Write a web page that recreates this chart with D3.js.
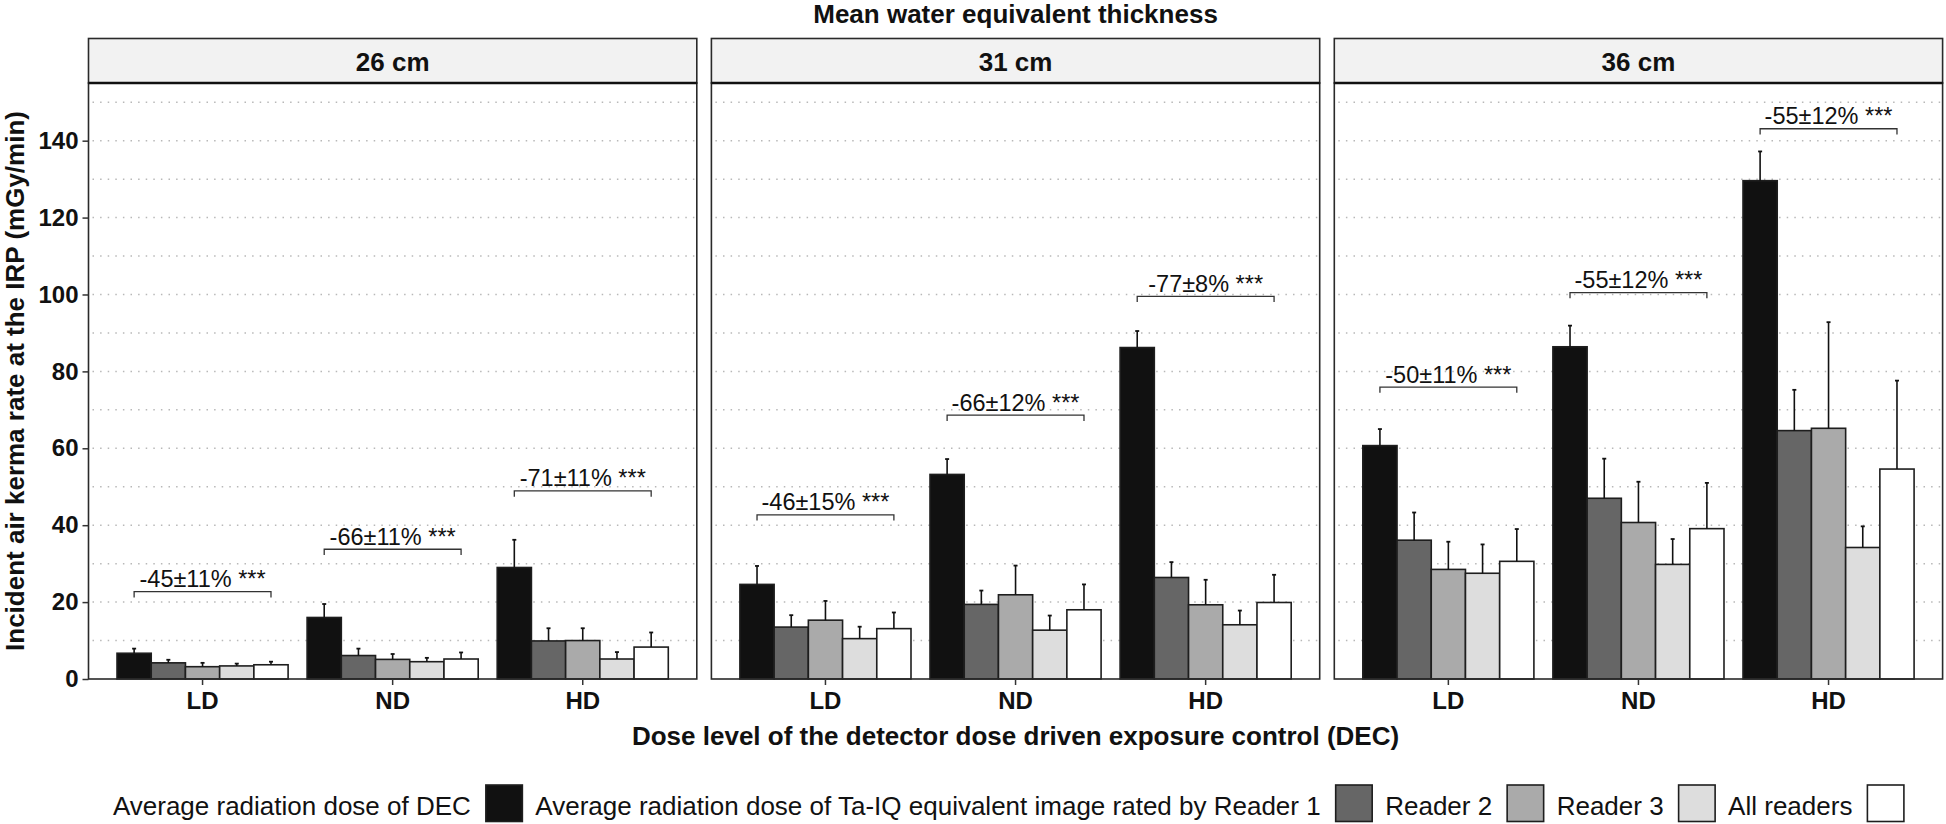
<!DOCTYPE html>
<html>
<head>
<meta charset="utf-8">
<script src="https://cdn.jsdelivr.net/npm/d3@7/dist/d3.min.js"></script>
<style>
  html, body { margin: 0; padding: 0; background: #fff; }
  svg { display: block; font-family: "Liberation Sans", Arial, Helvetica, sans-serif; }
</style>
</head>
<body>
<script>
// ---------- data ----------
const panels = ["26 cm", "31 cm", "36 cm"];
const categories = ["LD", "ND", "HD"];
const seriesNames = [
  "Average radiation dose of DEC",
  "Average radiation dose of Ta-IQ equivalent image rated by Reader 1",
  "Reader 2",
  "Reader 3",
  "All readers"
];
// mean values per category (LD, ND, HD), series order as seriesNames
const mean26 = [[6.7, 4.2, 3.2, 3.4, 3.7], [16.0, 6.1, 5.1, 4.5, 5.2], [29.0, 9.9, 10.0, 5.2, 8.3]];
const upper26 = [[7.9, 5.0, 4.2, 4.0, 4.5], [19.5, 7.9, 6.5, 5.5, 6.9], [36.2, 13.2, 13.2, 7.0, 12.1]];
const mean31 = [[24.6, 13.5, 15.3, 10.5, 13.1], [53.2, 19.4, 21.9, 12.7, 18.0], [86.2, 26.4, 19.3, 14.1, 19.9]];
const upper31 = [[29.4, 16.6, 20.3, 13.6, 17.3], [57.2, 23.0, 29.5, 16.5, 24.6], [90.5, 30.4, 25.8, 17.8, 27.1]];
const mean36 = [[60.7, 36.1, 28.5, 27.5, 30.6], [86.4, 47.0, 40.7, 29.8, 39.1], [129.6, 64.6, 65.2, 34.2, 54.6]];
const upper36 = [[65.0, 43.3, 35.7, 35.0, 39.0], [91.9, 57.3, 51.3, 36.4, 51.0], [137.2, 75.2, 92.8, 39.7, 77.6]];
const bracketY26 = [22.7, 33.75, 48.9];
const bracketY31 = [42.7, 68.6, 99.5];
const bracketY36 = [75.9, 100.5, 143.1];
const bracketLabels26 = ["-45\u00b111% ***", "-66\u00b111% ***", "-71\u00b111% ***"];
const bracketLabels31 = ["-46\u00b115% ***", "-66\u00b112% ***", "-77\u00b18% ***"];
const bracketLabels36 = ["-50\u00b111% ***", "-55\u00b112% ***", "-55\u00b112% ***"];
const yTicks = [0, 20, 40, 60, 80, 100, 120, 140];
const gridValues = [10, 20, 30, 40, 50, 60, 70, 80, 90, 100, 110, 120, 130, 140, 150];
const yDomain = [0, 155];
const title = "Mean water equivalent thickness";
const xTitle = "Dose level of the detector dose driven exposure control (DEC)";
const yTitle = "Incident air kerma rate at the IRP (mGy/min)";

// ---------- styles ----------
const fills = ["#111111", "#666666", "#aaaaaa", "#dddddd", "#ffffff"];
const W = 1946, H = 824;
const panelLeft = 88.5, panelW = 608.3, panelGap = 14.6;
const stripTop = 38.5, panelTop = 83, panelBottom = 679;

const meansAll = [mean26, mean31, mean36];
const uppersAll = [upper26, upper31, upper36];
const bracketYAll = [bracketY26, bracketY31, bracketY36];
const bracketLabAll = [bracketLabels26, bracketLabels31, bracketLabels36];

const svg = d3.select("body").append("svg").attr("width", W).attr("height", H);
svg.append("rect").attr("width", W).attr("height", H).attr("fill", "#fff");

const y = d3.scaleLinear().domain(yDomain).range([panelBottom, panelTop]);
const x0 = d3.scaleBand().domain(categories).range([0, panelW]).paddingInner(0.1).paddingOuter(0.15);
const x1 = d3.scaleBand().domain(d3.range(seriesNames.length)).range([0, x0.bandwidth()]);

panels.forEach((pname, p) => {
  const px = panelLeft + p * (panelW + panelGap);
  const g = svg.append("g").attr("transform", `translate(${px},0)`);

  // grid
  g.selectAll("line.grid").data(gridValues).join("line")
    .attr("x1", 4).attr("x2", panelW - 2)
    .attr("y1", d => y(d)).attr("y2", d => y(d))
    .attr("stroke", "#b8b8b8").attr("stroke-width", 1.5)
    .attr("stroke-dasharray", "1.5,6.1");

  const means = meansAll[p], uppers = uppersAll[p];
  categories.forEach((cat, ci) => {
    const cg = g.append("g").attr("transform", `translate(${x0(cat)},0)`);
    const rows = means[ci].map((m, s) => ({ m, u: uppers[ci][s], s }));
    cg.selectAll("rect").data(rows).join("rect")
      .attr("x", d => x1(d.s)).attr("width", x1.bandwidth())
      .attr("y", d => y(d.m)).attr("height", d => y(0) - y(d.m))
      .attr("fill", d => fills[d.s])
      .attr("stroke", "#1e1e1e").attr("stroke-width", 1.6);
    cg.selectAll("line.err").data(rows).join("line")
      .attr("x1", d => x1(d.s) + x1.bandwidth() / 2).attr("x2", d => x1(d.s) + x1.bandwidth() / 2)
      .attr("y1", d => y(d.m)).attr("y2", d => y(d.u))
      .attr("stroke", "#111").attr("stroke-width", 1.6);
    cg.selectAll("line.cap").data(rows).join("line")
      .attr("x1", d => x1(d.s) + x1.bandwidth() / 2 - 2).attr("x2", d => x1(d.s) + x1.bandwidth() / 2 + 2)
      .attr("y1", d => y(d.u)).attr("y2", d => y(d.u))
      .attr("stroke", "#111").attr("stroke-width", 1.8);

    // bracket
    const bx1 = x1(0) + x1.bandwidth() / 2;
    const bx2 = x1(seriesNames.length - 1) + x1.bandwidth() / 2;
    const by = y(bracketYAll[p][ci]);
    cg.append("path")
      .attr("d", `M${bx1},${by + 5.7}V${by}H${bx2}V${by + 5.7}`)
      .attr("fill", "none").attr("stroke", "#333").attr("stroke-width", 1.3);
    cg.append("text")
      .attr("x", x0.bandwidth() / 2).attr("y", by - 4.5)
      .attr("text-anchor", "middle").attr("font-size", 23.5).attr("fill", "#111")
      .text(bracketLabAll[p][ci]);
  });

  // panel border
  g.append("rect").attr("x", 0).attr("y", panelTop).attr("width", panelW).attr("height", panelBottom - panelTop)
    .attr("fill", "none").attr("stroke", "#2a2a2a").attr("stroke-width", 1.6);
  // strip
  g.append("rect").attr("x", 0).attr("y", stripTop).attr("width", panelW).attr("height", panelTop - stripTop)
    .attr("fill", "#f2f2f2").attr("stroke", "#2a2a2a").attr("stroke-width", 1.6);
  g.append("line").attr("x1", 0).attr("x2", panelW).attr("y1", panelTop).attr("y2", panelTop)
    .attr("stroke", "#111").attr("stroke-width", 2.4);
  g.append("text").attr("x", panelW / 2).attr("y", 71).attr("text-anchor", "middle")
    .attr("font-size", 26).attr("font-weight", "bold").attr("fill", "#111").text(pname);

  // x axis
  const xa = g.append("g").attr("transform", `translate(0,${panelBottom})`)
    .call(d3.axisBottom(x0).tickSize(6).tickPadding(7).tickSizeOuter(0));
  xa.select(".domain").remove();
  xa.selectAll(".tick line").attr("stroke", "#333").attr("stroke-width", 1.5);
  xa.selectAll(".tick text").attr("font-size", 24).attr("font-weight", "bold").attr("fill", "#111")
    .attr("font-family", "Liberation Sans, Arial, sans-serif");

  if (p === 0) {
    const ya = g.append("g").call(d3.axisLeft(y).tickValues(yTicks).tickSize(6).tickPadding(4).tickSizeOuter(0));
    ya.select(".domain").remove();
    ya.selectAll(".tick line").attr("stroke", "#333").attr("stroke-width", 1.5);
    ya.selectAll(".tick text").attr("font-size", 24).attr("font-weight", "bold").attr("fill", "#111")
      .attr("font-family", "Liberation Sans, Arial, sans-serif");
  }
});

const plotCenter = panelLeft + (3 * panelW + 2 * panelGap) / 2;
svg.append("text").attr("x", plotCenter).attr("y", 22.5).attr("text-anchor", "middle")
  .attr("font-size", 26).attr("font-weight", "bold").attr("fill", "#111").text(title);
svg.append("text").attr("x", plotCenter).attr("y", 745).attr("text-anchor", "middle")
  .attr("font-size", 26).attr("font-weight", "bold").attr("fill", "#111").text(xTitle);
svg.append("text").attr("transform", `translate(24,${(panelTop + panelBottom) / 2}) rotate(-90)`)
  .attr("text-anchor", "middle").attr("font-size", 26).attr("font-weight", "bold").attr("fill", "#111").text(yTitle);

// legend
const lg = svg.append("g");
const keySize = 36.5, keyTop = 785, textBase = 815, gapTK = 15, gapKT = 13;
let cx = 0;
seriesNames.forEach((name, s) => {
  const t = lg.append("text").attr("x", cx).attr("y", textBase).attr("font-size", 26).attr("fill", "#111").text(name);
  cx += t.node().getComputedTextLength() + gapTK;
  lg.append("rect").attr("x", cx).attr("y", keyTop).attr("width", keySize).attr("height", keySize)
    .attr("fill", fills[s]).attr("stroke", "#1e1e1e").attr("stroke-width", 1.6);
  cx += keySize + (s < seriesNames.length - 1 ? gapKT : 0);
});
lg.attr("transform", `translate(${1008.4 - cx / 2},0)`);
</script>
</body>
</html>
